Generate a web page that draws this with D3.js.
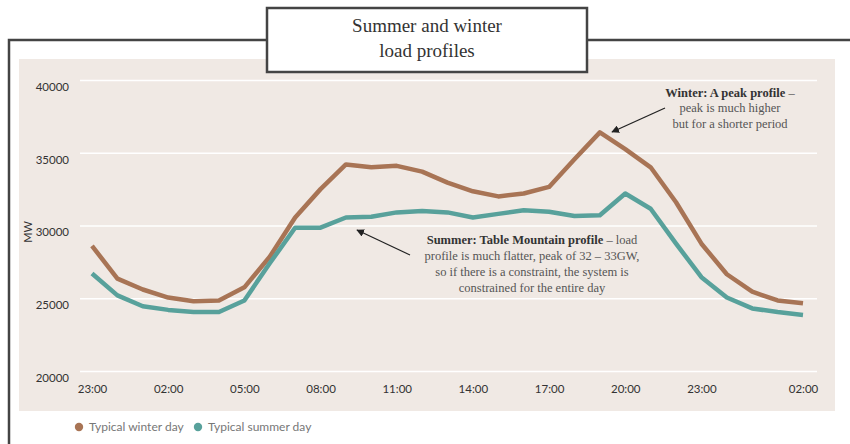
<!DOCTYPE html>
<html>
<head>
<meta charset="utf-8">
<script src="https://cdn.jsdelivr.net/npm/d3@7"></script>
<style>
  body { margin: 0; background: #fff; }
  .tick text { font-family: Lato, "Open Sans", sans-serif; font-size: 11.5px; fill: #333; }
  .note { font-family: "Liberation Serif", serif; font-size: 12.5px; fill: #555; }
  .note .b { font-weight: bold; fill: #333; }
</style>
</head>
<body>
<div id="graph"></div>
<script>
// hourly points, 23:00 through next night
var hours = ["23:00","00:00","01:00","02:00","03:00","04:00","05:00","06:00","07:00","08:00",
             "09:00","10:00","11:00","12:00","13:00","14:00","15:00","16:00","17:00","18:00",
             "19:00","20:00","21:00","22:00","23:00","00:00","01:00","02:00","03:00"];
var winter = [28600, 26350, 25600, 25050, 24800, 24850, 25750, 27850, 30550, 32500,
              34200, 34000, 34100, 33700, 32950, 32350, 32000, 32200, 32650, 34550,
              36400, 35250, 34000, 31600, 28750, 26650, 25450, 24850, 24650];
var summer = [26700, 25200, 24450, 24200, 24050, 24050, 24850, 27400, 29850, 29850,
              30550, 30600, 30900, 31000, 30900, 30550, 30800, 31050, 30950, 30650,
              30700, 32200, 31150, 28750, 26450, 25050, 24300, 24050, 23850];
var tickIdx = [0, 3, 6, 9, 12, 15, 18, 21, 24, 28];
var tickLabels = ["23:00","02:00","05:00","08:00","11:00","14:00","17:00","20:00","23:00","02:00"];
var yTicks = [20000, 25000, 30000, 35000, 40000];
var seriesNames = ["Typical winter day", "Typical summer day"];
var colors = ["#a87455", "#58a19b"];

var svg = d3.select("#graph").append("svg").attr("width", 850).attr("height", 444);

// outer frame
svg.append("path")
  .attr("d", "M9,444 V40 H267 M587,40 H850")
  .attr("fill", "none").attr("stroke", "#444").attr("stroke-width", 2.5);

// panel
svg.append("rect").attr("x", 19).attr("y", 59).attr("width", 816).attr("height", 352).attr("fill", "#f0e9e4");

var x = d3.scaleLinear().domain([0, hours.length - 1]).range([92, 803]);
var y = d3.scaleLinear().domain([20000, 40000]).range([371, 80]);

// y axis + gridlines
var ya = svg.append("g").attr("transform", "translate(80,0)")
  .call(d3.axisLeft(y).tickValues(yTicks).tickSize(-737).tickFormat(d3.format("d")));
ya.select(".domain").remove();
ya.selectAll(".tick line").attr("stroke", "#fff").attr("stroke-width", 1.5);
ya.selectAll(".tick text").attr("x", -11).attr("dy", "0.9em");

// x axis
var xa = svg.append("g").attr("transform", "translate(0,371)")
  .call(d3.axisBottom(x).tickValues(tickIdx).tickSize(0).tickPadding(14)
    .tickFormat(function(d, i){ return tickLabels[i]; }));
xa.select(".domain").remove();

svg.append("text").text("MW")
  .attr("transform", "translate(32,232) rotate(-90)")
  .attr("text-anchor", "middle")
  .attr("font-family", "Lato, sans-serif").attr("font-size", 11).attr("fill", "#333");

// lines
var line = d3.line().x(function(d, i){ return x(i); }).y(function(d){ return y(d); });
[winter, summer].forEach(function(s, k){
  svg.append("path").datum(s)
    .attr("d", line)
    .attr("fill", "none")
    .attr("stroke", colors[k])
    .attr("stroke-width", 4.5)
    .attr("stroke-linejoin", "round");
});

// title box
svg.append("rect").attr("x", 267).attr("y", 8).attr("width", 320).attr("height", 64)
  .attr("fill", "#fff").attr("stroke", "#444").attr("stroke-width", 2.5);
svg.append("text").attr("x", 427).attr("y", 32).attr("text-anchor", "middle")
  .attr("font-family", "Liberation Serif, serif").attr("font-size", 19).attr("fill", "#333")
  .text("Summer and winter");
svg.append("text").attr("x", 427).attr("y", 57).attr("text-anchor", "middle")
  .attr("font-family", "Liberation Serif, serif").attr("font-size", 19).attr("fill", "#333")
  .text("load profiles");

// annotations
svg.append("defs").append("marker")
  .attr("id", "arr").attr("viewBox", "0 0 10 10").attr("refX", 9).attr("refY", 5)
  .attr("markerWidth", 6).attr("markerHeight", 6).attr("orient", "auto")
  .append("path").attr("d", "M0,0 L10,5 L0,10 z").attr("fill", "#222");

svg.append("line").attr("x1", 665).attr("y1", 108).attr("x2", 612).attr("y2", 132)
  .attr("stroke", "#222").attr("stroke-width", 1.3).attr("marker-end", "url(#arr)");
svg.append("line").attr("x1", 410).attr("y1", 255).attr("x2", 357).attr("y2", 230)
  .attr("stroke", "#222").attr("stroke-width", 1.3).attr("marker-end", "url(#arr)");

var w = svg.append("text").attr("class", "note").attr("text-anchor", "middle");
var t1 = w.append("tspan").attr("x", 730).attr("y", 97);
t1.append("tspan").attr("class", "b").text("Winter: A peak profile");
t1.append("tspan").text(" \u2013");
w.append("tspan").attr("x", 730).attr("y", 112).text("peak is much higher");
w.append("tspan").attr("x", 730).attr("y", 128).text("but for a shorter period");

var s = svg.append("text").attr("class", "note").attr("text-anchor", "middle");
var s1 = s.append("tspan").attr("x", 532).attr("y", 244);
s1.append("tspan").attr("class", "b").text("Summer: Table Mountain profile");
s1.append("tspan").text(" \u2013 load");
s.append("tspan").attr("x", 532).attr("y", 260).text("profile is much flatter, peak of 32 \u2013 33GW,");
s.append("tspan").attr("x", 532).attr("y", 276).text("so if there is a constraint, the system is");
s.append("tspan").attr("x", 532).attr("y", 292).text("constrained for the entire day");

// legend
var legX = [79, 198];
seriesNames.forEach(function(n, k){
  svg.append("circle").attr("cx", legX[k]).attr("cy", 427).attr("r", 4.2).attr("fill", colors[k]);
  svg.append("text").attr("x", legX[k] + 10).attr("y", 431)
    .attr("font-family", "Lato, sans-serif").attr("font-size", 12).attr("fill", "#777")
    .text(n);
});
</script>
</body>
</html>
